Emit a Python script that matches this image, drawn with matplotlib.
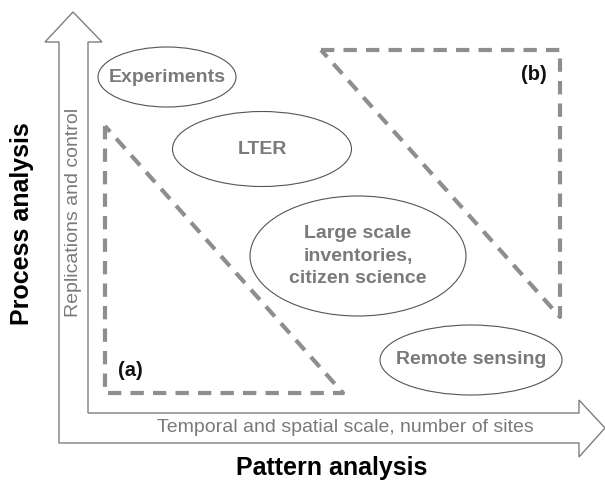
import matplotlib
matplotlib.use("Agg")
import matplotlib.pyplot as plt
from matplotlib.patches import Ellipse, Polygon

# ---- content ----
ellipse_labels = ["Experiments", "LTER", "Large scale\ninventories,\ncitizen science", "Remote sensing"]
region_labels = ["(a)", "(b)"]
x_axis_label = "Temporal and spatial scale, number of sites"
y_axis_label = "Replications and control"
x_title = "Pattern analysis"
y_title = "Process analysis"

plt.rcParams['font.family'] = ['Liberation Sans', 'DejaVu Sans']

W, H = 605, 483
fig = plt.figure(figsize=(W / 100, H / 100), dpi=100)
ax = fig.add_axes([0, 0, 1, 1])
ax.set_xlim(0, W)
ax.set_ylim(H, 0)
ax.axis('off')

arrow_col = '#7f7f7f'
dash_col = '#8e8e8e'
txt_gray = '#7a7a7a'

# L-shaped double arrow outline
arrow_pts = [(59, 443), (59, 42), (45, 42), (73, 12), (102, 42), (88, 42), (88, 413),
             (579, 413), (579, 400), (605, 428), (579, 457), (579, 443)]
ax.add_patch(Polygon(arrow_pts, closed=True, fill=False, ec=arrow_col, lw=1.0))

# dashed triangles
tri_a = [(105, 126), (105, 393), (343, 393), (105, 126)]
tri_b = [(321, 50), (560, 50), (560, 317), (321, 50)]
for tri in (tri_a, tri_b):
    xs, ys = zip(*tri)
    ax.plot(xs, ys, color=dash_col, lw=3.0, ls=(0, (3.2, 2.2)), solid_capstyle='butt',
            dash_capstyle='butt')

# ellipses
ell_geom = [(167, 77, 138, 60), (262, 149, 179, 75), (358, 256, 216, 120), (471, 360, 182, 70)]
for (cx, cy, w, h), lab in zip(ell_geom, ellipse_labels):
    ax.add_patch(Ellipse((cx, cy), w, h, fill=False, ec='#555555', lw=0.8))
    ax.text(cx, cy, lab, ha='center', va='center', color=txt_gray, fontsize=14,
            fontweight='bold', linespacing=1.4)

# region labels
ax.text(130, 370, region_labels[0], ha='center', va='center', fontsize=14.5, fontweight='bold', color='#111111')
ax.text(534, 75, region_labels[1], ha='center', va='center', fontsize=14.5, fontweight='bold', color='#111111')

# axis texts
ax.text(345, 428, x_axis_label, ha='center', va='center', fontsize=14, color=txt_gray)
ax.text(73, 212, y_axis_label, ha='center', va='center', fontsize=14, color=txt_gray, rotation=90)
ax.text(332, 468, x_title, ha='center', va='center', fontsize=18, fontweight='bold', color='black')
ax.text(22, 224, y_title, ha='center', va='center', fontsize=18, fontweight='bold', color='black', rotation=90)

fig.savefig('out.png', dpi=100)
